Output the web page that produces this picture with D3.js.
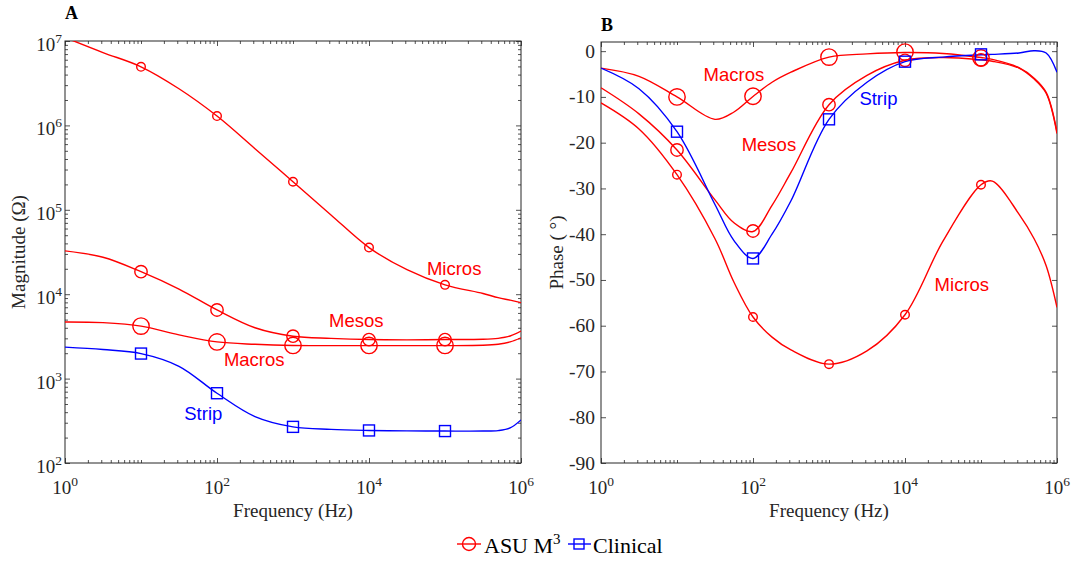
<!DOCTYPE html>
<html>
<head>
<meta charset="utf-8">
<script src="https://cdn.jsdelivr.net/npm/d3@7"></script>
<style>
  body { margin: 0; background: #fff; }
  svg { display: block; font-family: "Liberation Serif", "Times New Roman", serif; }
</style>
</head>
<body>
<svg id="chart" width="1073" height="561"></svg>
<script>
// ---- data ----
const magFreq = [1, 3.16, 10, 31.6, 100, 316, 1e3, 3.16e3, 1e4, 3.16e4, 1e5, 3.16e5, 5e5, 7.2e5, 1e6];
const magMicros = [1.1e7, 7.3e6, 4.95e6, 2.72e6, 1.29e6, 5.3e5, 2.15e5, 8.7e4, 3.57e4, 1.95e4, 1.29e4, 1.02e4, 9.1e3, 8.5e3, 7.95e3];
const magMesos = [3.26e4, 2.74e4, 1.85e4, 1.15e4, 6.5e3, 4.0e3, 3.18e3, 3.0e3, 2.9e3, 2.88e3, 2.9e3, 2.92e3, 3.0e3, 3.2e3, 3.66e3];
const magMacros = [4.68e3, 4.6e3, 4.19e3, 3.3e3, 2.72e3, 2.55e3, 2.47e3, 2.46e3, 2.46e3, 2.46e3, 2.46e3, 2.48e3, 2.55e3, 2.72e3, 3.04e3];
const magStrip = [2.36e3, 2.21e3, 1.98e3, 1.4e3, 671, 355, 268, 250, 243, 240, 239, 239, 242, 260, 324];

const phFreq = [1, 3.16, 10, 31.6, 56.2, 100, 178, 316, 1e3, 3.16e3, 1e4, 3.16e4, 1e5, 1.41e5, 3.16e5, 5e5, 7.2e5, 1e6];
const phMacros = [-3.7, -5.5, -10.0, -14.9, -13.3, -9.9, -6.8, -4.6, -1.3, -0.6, -0.3, -0.5, -1.4, -1.8, -3.6, -5.9, -9.0, -17.7];
const phMesos = [-8.0, -13.7, -21.6, -32.5, -37.5, -39.4, -33.7, -26.5, -11.7, -5.3, -2.0, -1.4, -1.9, -2.2, -3.7, -6.1, -9.2, -18.0];
const phStrip = [-3.7, -8.2, -17.6, -33.5, -41.4, -45.3, -40.0, -32.7, -14.9, -6.8, -2.3, -1.3, -0.8, -0.7, -0.4, 0.1, -0.4, -4.6];
const phMicros = [-11.3, -17.0, -27.0, -41.0, -50.5, -58.1, -62.5, -65.3, -68.4, -65.5, -57.6, -41.5, -29.2, -28.4, -35.6, -41.0, -46.9, -56.0];

const markFreq = [10, 100, 1e3, 1e4, 1e5];
const mkMagMicros = [4.95e6, 1.29e6, 2.15e5, 3.57e4, 1.29e4];
const mkMagMesos = [1.85e4, 6.5e3, 3.18e3, 2.9e3, 2.9e3];
const mkMagMacros = [4.19e3, 2.72e3, 2.47e3, 2.47e3, 2.47e3];
const mkMagStrip = [1.98e3, 671, 268, 243, 239];
const mkPhMacros = [-10.0, -9.85, -1.3, -0.2, -1.5];
const mkPhMesos = [-21.6, -39.3, -11.7, -2.0, -1.9];
const mkPhStrip = [-17.6, -45.3, -14.9, -2.3, -0.7];
const mkPhMicros = [-27.0, -58.1, -68.4, -57.6, -29.2];

const xTicks = [1, 1e2, 1e4, 1e6];
const magTicks = [1e2, 1e3, 1e4, 1e5, 1e6, 1e7];
const phTicks = [0, -10, -20, -30, -40, -50, -60, -70, -80, -90];

// label anchors [text, freq, value]
const magLabels = [["Micros", 1.32e5, 2.03e4], ["Mesos", 6.8e3, 4.9e3], ["Macros", 309, 1.68e3], ["Strip", 66, 388]];
const phLabels = [["Macros", 56, -5.1], ["Strip", 4470, -10.3], ["Mesos", 162, -20.3], ["Micros", 5.6e4, -50.9]];

const RED = "#ff0000", BLUE = "#0000ff", INK = "#262626";

const svg = d3.select("#chart");
svg.append("rect").attr("width", 1073).attr("height", 561).attr("fill", "#fff");

// minor ticks for a log axis: 2..9 x decade, plus the unlabelled decades
function logMinor(lo, hi, majors) {
  const out = [];
  for (let e = Math.log10(lo); e < Math.log10(hi); e++) {
    for (let k = 1; k <= 9; k++) {
      const v = k * Math.pow(10, e);
      if (v >= lo && v <= hi && !majors.includes(v)) out.push(v);
    }
  }
  return out;
}

function supLabel(sel, exp, size, supSize) {
  sel.text(null);
  sel.append("tspan").attr("font-size", size).text("10");
  sel.append("tspan").attr("font-size", supSize).attr("dy", -8).text(exp);
}

function panel(box, yScale, opts) {
  const x = d3.scaleLog().domain([1, 1e6]).range([box.left, box.right]);
  const y = yScale.range([box.bottom, box.top]);
  const g = svg.append("g");
  const id = "clip" + opts.name;
  svg.append("clipPath").attr("id", id).append("rect")
    .attr("x", box.left).attr("y", box.top)
    .attr("width", box.right - box.left).attr("height", box.bottom - box.top);

  const xMinor = logMinor(1, 1e6, xTicks);
  const addAx = (axis, tr, vals, len) => {
    const a = g.append("g").attr("transform", tr)
      .call(axis.tickValues(vals).tickSize(-len).tickFormat(""));
    a.select(".domain").remove();
    a.selectAll("line").attr("stroke", INK).attr("stroke-width", 0.8);
  };
  addAx(d3.axisBottom(x), `translate(0,${box.bottom})`, xTicks, 5);
  addAx(d3.axisBottom(x), `translate(0,${box.bottom})`, xMinor, 3);
  addAx(d3.axisTop(x), `translate(0,${box.top})`, xTicks, 5);
  addAx(d3.axisTop(x), `translate(0,${box.top})`, xMinor, 3);
  addAx(d3.axisLeft(y), `translate(${box.left},0)`, opts.yTicks, 5);
  addAx(d3.axisRight(y), `translate(${box.right},0)`, opts.yTicks, 5);
  if (opts.yMinor) {
    addAx(d3.axisLeft(y), `translate(${box.left},0)`, opts.yMinor, 3);
    addAx(d3.axisRight(y), `translate(${box.right},0)`, opts.yMinor, 3);
  }

  // box
  g.append("rect").attr("x", box.left).attr("y", box.top)
    .attr("width", box.right - box.left).attr("height", box.bottom - box.top)
    .attr("fill", "none").attr("stroke", INK).attr("stroke-width", 1);

  // x tick labels
  g.selectAll("text.xt").data(xTicks).join("text").attr("class", "xt")
    .attr("x", d => x(d)).attr("y", box.bottom + 31)
    .attr("text-anchor", "middle").attr("fill", INK)
    .each(function (d) { supLabel(d3.select(this), Math.round(Math.log10(d)), 19, 13.5); });

  // y tick labels
  const yl = g.selectAll("text.yt").data(opts.yTicks).join("text").attr("class", "yt")
    .attr("text-anchor", "end").attr("fill", INK);
  if (opts.logY) {
    yl.attr("x", box.left - 3).attr("y", d => y(d) + 10)
      .each(function (d) { supLabel(d3.select(this), Math.round(Math.log10(d)), 19, 13.5); });
  } else {
    yl.attr("x", box.left - 6).attr("y", d => y(d) + 6.5).attr("font-size", 19.5).text(d => d);
  }

  // axis titles
  g.append("text").attr("x", (box.left + box.right) / 2).attr("y", 517)
    .attr("text-anchor", "middle").attr("font-size", 19).attr("fill", INK).text("Frequency (Hz)");
  g.append("text").attr("transform", `translate(${opts.yTitleX},${(box.top + box.bottom) / 2}) rotate(-90)`)
    .attr("text-anchor", "middle").attr("font-size", 19).attr("fill", INK).text(opts.yTitle);
  g.append("text").attr("x", box.left).attr("y", opts.letterY)
    .attr("font-size", 18).attr("font-weight", "bold").attr("fill", "#000").text(opts.name);

  // curves
  const plot = g.append("g").attr("clip-path", `url(#${id})`);
  const line = d3.line().x(d => x(d[0])).y(d => y(d[1])).curve(d3.curveCatmullRom.alpha(0.5));
  opts.series.forEach(s => {
    plot.append("path").datum(s.freq.map((f, i) => [f, s.vals[i]]))
      .attr("d", line).attr("fill", "none").attr("stroke", s.color).attr("stroke-width", 1.4);
  });
  opts.series.forEach(s => {
    const pts = markFreq.map((f, i) => [f, s.marks[i]]);
    if (s.shape === "square") {
      g.selectAll(null).data(pts).join("rect")
        .attr("x", d => x(d[0]) - 5.5).attr("y", d => y(d[1]) - 5.5)
        .attr("width", 11).attr("height", 11)
        .attr("fill", "none").attr("stroke", s.color).attr("stroke-width", 1.4);
    } else {
      g.selectAll(null).data(pts).join("circle")
        .attr("cx", d => x(d[0])).attr("cy", d => y(d[1])).attr("r", s.r)
        .attr("fill", "none").attr("stroke", s.color).attr("stroke-width", 1.4);
    }
  });

  // curve labels
  g.selectAll(null).data(opts.labels).join("text")
    .attr("x", d => x(d[1])).attr("y", d => y(d[2]))
    .attr("text-anchor", "middle").attr("dominant-baseline", "central")
    .attr("font-family", "'Liberation Sans', Arial, sans-serif").attr("font-size", 18.5)
    .attr("fill", d => d[0] === "Strip" ? BLUE : RED).text(d => d[0]);
}

panel({ left: 65, right: 521, top: 41, bottom: 463 }, d3.scaleLog().domain([1e2, 1e7]), {
  name: "A", letterY: 19, logY: true, yTicks: magTicks, yMinor: logMinor(1e2, 1e7, magTicks),
  yTitle: "Magnitude (Ω)", yTitleX: 25, labels: magLabels,
  series: [
    { freq: magFreq, vals: magMicros, marks: mkMagMicros, color: RED, r: 4.3 },
    { freq: magFreq, vals: magMesos, marks: mkMagMesos, color: RED, r: 6.2 },
    { freq: magFreq, vals: magMacros, marks: mkMagMacros, color: RED, r: 8.2 },
    { freq: magFreq, vals: magStrip, marks: mkMagStrip, color: BLUE, shape: "square" }
  ]
});

panel({ left: 601, right: 1057, top: 42, bottom: 463 }, d3.scaleLinear().domain([-90, 2]), {
  name: "B", letterY: 31, logY: false, yTicks: phTicks,
  yTitle: "Phase ( °)", yTitleX: 563, labels: phLabels,
  series: [
    { freq: phFreq, vals: phMacros, marks: mkPhMacros, color: RED, r: 8.2 },
    { freq: phFreq, vals: phMesos, marks: mkPhMesos, color: RED, r: 6.2 },
    { freq: phFreq, vals: phMicros, marks: mkPhMicros, color: RED, r: 4.3 },
    { freq: phFreq, vals: phStrip, marks: mkPhStrip, color: BLUE, shape: "square" }
  ]
});

// legend
const leg = svg.append("g");
leg.append("line").attr("x1", 457).attr("x2", 481).attr("y1", 544).attr("y2", 544).attr("stroke", RED).attr("stroke-width", 1.4);
leg.append("circle").attr("cx", 469).attr("cy", 544).attr("r", 6.5).attr("fill", "none").attr("stroke", RED).attr("stroke-width", 1.4);
const t1 = leg.append("text").attr("x", 484).attr("y", 553).attr("fill", "#000");
t1.append("tspan").attr("font-size", 22).text("ASU M");
t1.append("tspan").attr("font-size", 15).attr("dy", -9).text("3");
leg.append("line").attr("x1", 568).attr("x2", 591).attr("y1", 544).attr("y2", 544).attr("stroke", BLUE).attr("stroke-width", 1.4);
leg.append("rect").attr("x", 574).attr("y", 539).attr("width", 10).attr("height", 10).attr("fill", "none").attr("stroke", BLUE).attr("stroke-width", 1.4);
leg.append("text").attr("x", 593).attr("y", 553).attr("font-size", 22).attr("fill", "#000").text("Clinical");
</script>
</body>
</html>
